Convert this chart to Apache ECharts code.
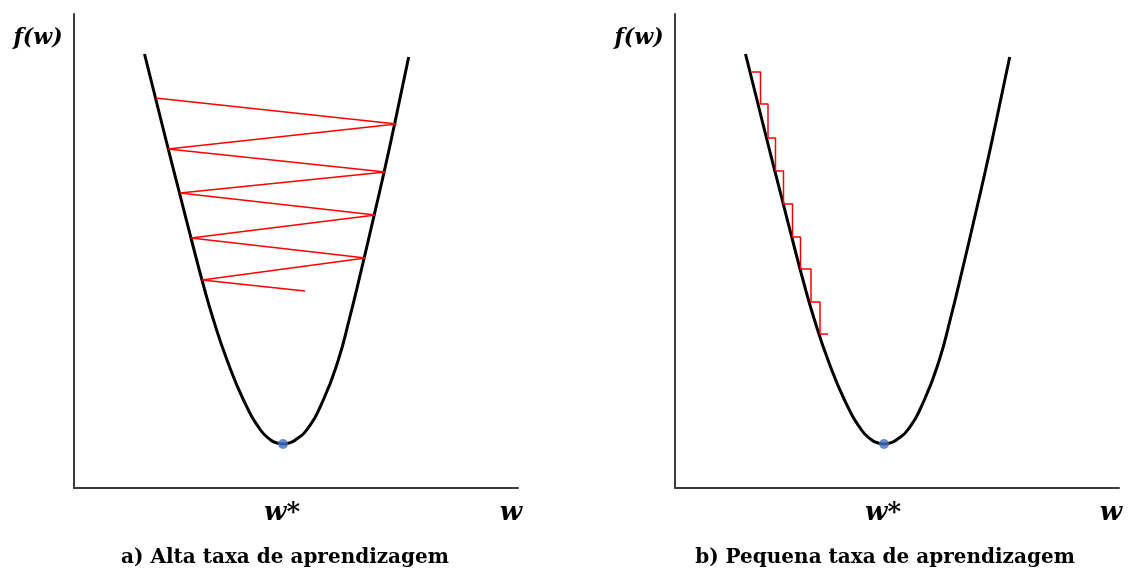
<!DOCTYPE html>
<html>
<head>
<meta charset="utf-8">
<script src="https://cdn.jsdelivr.net/npm/echarts@6/dist/echarts.min.js"></script>
<style>
html,body{margin:0;padding:0;background:#fff;}
#chart{width:1128px;height:571px;}
</style>
</head>
<body>
<div id="chart"></div>
<script>
// Cost curve f(w) (same shape in both panels), in axis units
const curveW = [70.5, 81.5, 94, 105.5, 117, 128, 139.5, 153, 169.5, 186.5, 197, 203, 209, 215, 221, 232.7, 249.3, 264.3, 275.1, 287.3, 300.2, 310.1, 320.8, 334.7];
const curveF = [434, 390, 340, 295, 250, 208, 168, 128, 88, 58, 47.8, 45, 44, 45, 47.8, 58, 88, 128, 168, 218, 273, 316, 365, 431];
// minimum w*
const minW = 209;
const minF = 44;
// a) high learning rate: zigzag iterates
const zigW = [81.5, 322.5, 94, 311.5, 106, 301.5, 117, 291.5, 128, 231];
const zigF = [390, 364, 339, 316, 295, 273, 250, 230, 208, 197];
// b) small learning rate: staircase (levels and riser positions)
const stepF = [416, 384, 350, 317, 284, 251, 219, 186, 154];
const stepW = [76.5, 85.5, 93, 100.5, 108.5, 117.5, 125.5, 136, 145, 153];
// texts
const yName = 'f(w)';
const xName = 'w';
const minName = 'w*';
const captions = ['a) Alta taxa de aprendizagem', 'b) Pequena taxa de aprendizagem'];

const curve = curveW.map((w, i) => [w, curveF[i]]);
const zig = zigW.map((w, i) => [w, zigF[i]]);
const stair = [];
for (let i = 0; i < stepF.length; i++) {
  stair.push([stepW[i], stepF[i]]);
  stair.push([stepW[i + 1], stepF[i]]);
}

const chart = echarts.init(document.getElementById('chart'), null, {renderer: 'canvas'});
const axisLine = {show: true, lineStyle: {color: '#3c3c3c', width: 2}};
const mkX = (gi) => ({
  type: 'value', gridIndex: gi, min: 0, max: 444,
  axisLine: axisLine, axisTick: {show: false}, axisLabel: {show: false}, splitLine: {show: false}
});
const mkY = (gi) => ({
  type: 'value', gridIndex: gi, min: 0, max: 474,
  axisLine: axisLine, axisTick: {show: false}, axisLabel: {show: false}, splitLine: {show: false}
});
const italic = {fontFamily: 'DejaVu Serif', fontStyle: 'italic', fontWeight: 'bold', fill: '#000'};
const bold = {fontFamily: 'DejaVu Serif', fontWeight: 'bold', fill: '#000', fontSize: 20};
const txt = (x, y, text, style) => ({
  type: 'text', x: x, y: y,
  style: Object.assign({text: text, textAlign: 'center', textVerticalAlign: 'middle'}, style)
});

const series = [];
[0, 1].forEach(gi => {
  series.push({
    type: 'line', xAxisIndex: gi, yAxisIndex: gi, data: curve, smooth: 0.5,
    symbol: 'none', lineStyle: {color: '#000', width: 3}, z: 2
  });
  series.push({
    type: 'line', xAxisIndex: gi, yAxisIndex: gi, data: gi === 0 ? zig : stair, smooth: false,
    symbol: 'none', lineStyle: {color: '#ff0000', width: 1.5}, z: 3
  });
  series.push({
    type: 'scatter', xAxisIndex: gi, yAxisIndex: gi, data: [[minW, minF]],
    symbolSize: 10, itemStyle: {color: '#4472c4'}, z: 4
  });
});

chart.setOption({
  animation: false,
  backgroundColor: '#fff',
  grid: [
    {left: 74, top: 14, width: 444, height: 474},
    {left: 675, top: 14, width: 444, height: 474}
  ],
  xAxis: [mkX(0), mkX(1)],
  yAxis: [mkY(0), mkY(1)],
  series: series,
  graphic: [
    txt(38, 38, yName, Object.assign({fontSize: 22}, italic)),
    txt(639, 38, yName, Object.assign({fontSize: 22}, italic)),
    txt(282, 513, minName, Object.assign({fontSize: 26}, italic)),
    txt(883, 513, minName, Object.assign({fontSize: 26}, italic)),
    txt(511, 513, xName, Object.assign({fontSize: 26}, italic)),
    txt(1111, 513, xName, Object.assign({fontSize: 26}, italic)),
    txt(285, 558, captions[0], bold),
    txt(885, 558, captions[1], bold)
  ]
});
</script>
</body>
</html>
